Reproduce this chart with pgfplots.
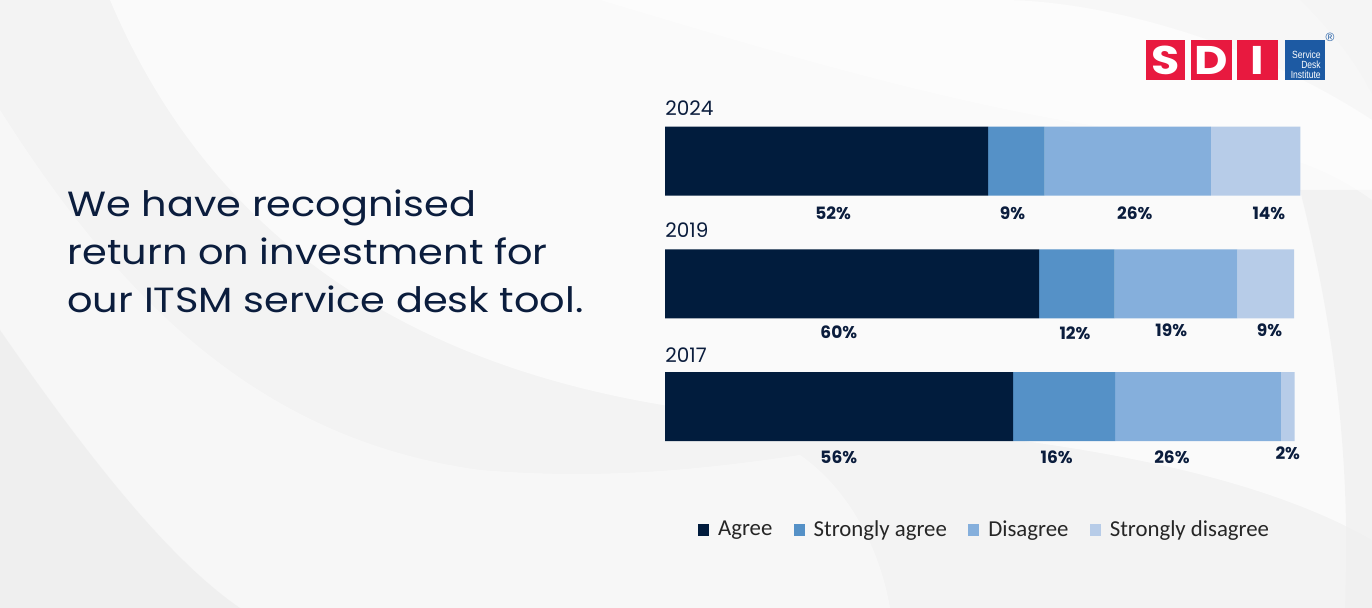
\documentclass[border=0pt]{standalone}
\usepackage{pgfplots}
\pgfplotsset{compat=1.18}
\usepackage{fontspec}
\setmainfont{Poppins}
\newfontfamily\legfont{Carlito}
\newfontfamily\logofont{Liberation Sans}

\definecolor{navy}{HTML}{0B1D3D}
\definecolor{cagree}{HTML}{011C3D}
\definecolor{csagree}{HTML}{5591C7}
\definecolor{cdis}{HTML}{85AFDC}
\definecolor{csdis}{HTML}{B7CCE8}
\definecolor{legtext}{HTML}{262626}
\definecolor{sdired}{HTML}{E8193F}
\definecolor{sdiblue}{HTML}{1D5AA3}
\definecolor{bgbase}{HTML}{F3F3F3}
\definecolor{bgdark}{HTML}{EEEEEE}

\tikzset{
  yearlab/.style={anchor=west,inner sep=0pt,text=navy,font=\fontsize{10}{10}\selectfont},
  pctlab/.style={inner sep=0pt,text=navy,font=\bfseries\fontsize{8.5}{9}\selectfont},
}
\pgfplotsset{
  sqlegend/.style={legend image code/.code={\fill[##1] (0pt,-2.9pt) rectangle (5.5pt,2.9pt);}},
}

\begin{document}
\begin{tikzpicture}
% page drawn in pixel units of the reference (1px = 0.5pt), y downwards
\begin{scope}[x=0.5pt,y=-0.5pt,yshift=304pt]
  \fill[bgbase] (0,0) rectangle (1372,608);
  \begin{scope}
    \clip (0,0) rectangle (1372,608);
    % soft background swooshes
    \fill[white,opacity=0.6] (110,0) .. controls (220,260) and (450,400) .. (800,420)
      .. controls (1050,435) and (1250,470) .. (1372,540) -- (1372,120)
      .. controls (1250,40) and (1100,0) .. (1000,0) -- cycle;
    \fill[white,opacity=0.4] (0,110) .. controls (120,300) and (260,440) .. (480,470)
      .. controls (600,480) and (700,470) .. (800,455)
      .. controls (850,490) and (880,550) .. (890,608) -- (0,608) -- cycle;
    \fill[bgdark,opacity=0.8] (0,330) .. controls (90,460) and (170,560) .. (240,608) -- (0,608) -- cycle;
    \fill[bgdark,opacity=0.7] (1300,0) .. controls (1340,40) and (1360,70) .. (1372,95) -- (1372,0) -- cycle;
    \fill[bgdark,opacity=0.6] (1300,190) .. controls (1340,350) and (1350,480) .. (1345,608) -- (1372,608) -- (1372,190) -- cycle;
    \fill[white,opacity=0.4] (600,0) .. controls (800,60) and (1000,120) .. (1200,140)
      .. controls (1280,150) and (1330,170) .. (1372,200) -- (1372,0) -- cycle;
  \end{scope}

  % title
  \begin{scope}[every node/.style={anchor=base west,inner sep=0pt,text=navy,xscale=1.14,
      font=\fontsize{17.5}{24.2}\selectfont}]
    \node at (67,217) {We have recognised};
    \node at (67,265) {return on investment for};
    \node at (67,313) {our ITSM service desk tool.};
  \end{scope}

  % SDI logo
  \fill[sdired] (1146,40) rectangle (1185,80);
  \fill[sdired] (1191,40) rectangle (1232,80);
  \fill[sdired] (1237,40) rectangle (1278,80);
  \fill[sdiblue] (1285,40) rectangle (1325,80);
  \begin{scope}[every node/.style={inner sep=0pt,text=white,xscale=1.15,
      font=\bfseries\fontsize{20}{20}\selectfont}]
    \node at (1165.5,60) {S};
    \node at (1211.5,60) {D};
    \node at (1257.5,60) {I};
  \end{scope}
  \begin{scope}[every node/.style={anchor=east,inner sep=0pt,text=white,xscale=0.82,
      font=\logofont\fontsize{5.2}{5.2}\selectfont}]
    \node at (1321,55) {Service};
    \node at (1321,65) {Desk};
    \node at (1321,75) {Institute};
  \end{scope}
  \node[inner sep=0pt,text=sdiblue,font=\logofont\fontsize{6}{6}\selectfont] at (1330,37) {\textregistered};
\end{scope}

\begin{axis}[
  at={(332.5pt,70pt)}, anchor=south west,
  scale only axis, width=318pt, height=184.125pt,
  xmin=0, xmax=101, ymin=-0.5, ymax=2.5,
  xbar stacked, bar width=34.5pt,
  hide axis, clip=false,
  legend columns=4,
  sqlegend,
  legend style={at={(0.508,-0.168)}, anchor=center, draw=none, fill=none,
    inner sep=0pt, text=legtext,
    font=\legfont\fontsize{11.4}{13}\selectfont,
    nodes={inner xsep=4.5pt, inner ysep=1pt},
    /tikz/every even column/.append style={column sep=6.2pt}},
]
\addplot[fill=cagree, draw=none] coordinates {(55.3,0) (59.4,1) (51.3,2)};
\addplot[fill=csagree, draw=none] coordinates {(16.2,0) (12.0,1) (9.0,2)};
\addplot[fill=cdis, draw=none] coordinates {(26.3,0) (19.5,1) (26.4,2)};
\addplot[fill=csdis, draw=none] coordinates {(2.2,0) (9.0,1) (14.2,2)};
\legend{Agree, Strongly agree, Disagree, Strongly disagree}

% year labels
\node[yearlab] at (axis cs:0,2.432) {2024};
\node[yearlab] at (axis cs:0,1.436) {2019};
\node[yearlab] at (axis cs:0,0.420) {2017};

% value labels
\node[pctlab] at (axis cs:26.7,1.576) {52\%};
\node[pctlab] at (axis cs:55.2,1.576) {9\%};
\node[pctlab] at (axis cs:74.6,1.576) {26\%};
\node[pctlab] at (axis cs:95.9,1.576) {14\%};
\node[pctlab] at (axis cs:27.6,0.607) {60\%};
\node[pctlab] at (axis cs:65.1,0.600) {12\%};
\node[pctlab] at (axis cs:80.4,0.623) {19\%};
\node[pctlab] at (axis cs:96.0,0.623) {9\%};
\node[pctlab] at (axis cs:27.6,-0.411) {56\%};
\node[pctlab] at (axis cs:62.2,-0.411) {16\%};
\node[pctlab] at (axis cs:80.5,-0.411) {26\%};
\node[pctlab] at (axis cs:98.9,-0.379) {2\%};
\end{axis}
\end{tikzpicture}
\end{document}
